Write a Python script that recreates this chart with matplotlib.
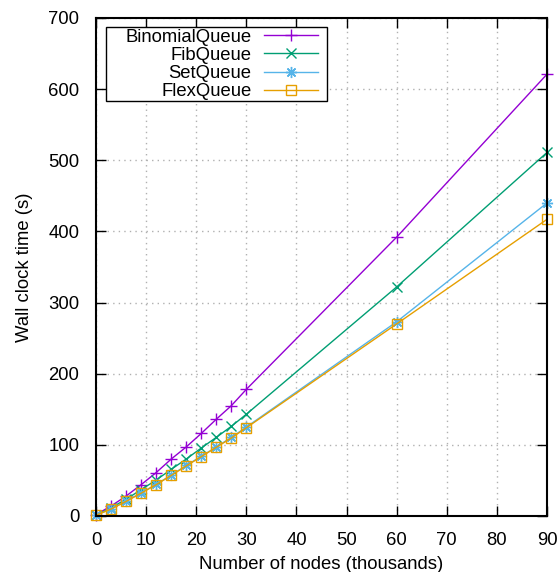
import matplotlib
matplotlib.use("Agg")
import matplotlib.pyplot as plt
from matplotlib.patches import Rectangle

nodes = [0, 3, 6, 9, 12, 15, 18, 21, 24, 27, 30, 60, 90]
binomial = [2, 14, 28, 44, 61, 80, 97, 116, 136, 155, 178, 392, 621]
fib = [1, 11.5, 23.5, 37, 50.5, 65.5, 80, 95.5, 110.5, 126, 143, 322, 511]
setq = [1, 10, 21, 32.5, 44.5, 57.5, 71, 84, 97, 110.5, 125, 273, 440]
flex = [1, 9.8, 20.5, 32, 44, 57, 70.3, 83.4, 96.5, 109.6, 124, 270, 417]

series_names = ["BinomialQueue", "FibQueue", "SetQueue", "FlexQueue"]
colors = ["#9400d3", "#009e73", "#56b4e9", "#e69f00"]
xticks = [0, 10, 20, 30, 40, 50, 60, 70, 80, 90]
yticks = [0, 100, 200, 300, 400, 500, 600, 700]

plt.rcParams['font.family'] = ['Liberation Sans', 'DejaVu Sans']
plt.rcParams['font.size'] = 13.3

W, H = 558, 572
L, R, T, B = 96, 547, 18, 516
fig = plt.figure(figsize=(W/100, H/100), dpi=100)
ax = fig.add_axes([L/W, 1-B/H, (R-L)/W, (B-T)/H])

def ax_x(px):
    return (px - L) / (R - L)

def ax_y(py):
    return (B - py) / (B - T)

styles = [dict(marker='+', markersize=9, mew=1.0, mfc='none'),
          dict(marker='x', markersize=7, mew=1.0, mfc='none'),
          dict(marker=(8, 2, 0), markersize=8, mew=1.0, mfc='none'),
          dict(marker='s', markersize=7, mew=1.0, mfc='none')]

for name, ys, c, st in zip(series_names, [binomial, fib, setq, flex], colors, styles):
    ax.plot(nodes, ys, color=c, lw=1.0, label=name, mec=c, clip_on=False, **st)

ax.set_xlim(0, 90)
ax.set_ylim(0, 700)
ax.set_xticks(xticks)
ax.set_yticks(yticks)
ax.tick_params(direction='in', length=7, width=1, top=True, right=True, colors='black')
ax.tick_params(axis='y', pad=12)
ax.tick_params(axis='x', pad=11.5)
ax.grid(True, linestyle=(0, (1, 3)), color='#b0b0b0', lw=1)
for s in ax.spines.values():
    s.set_linewidth(1.5)
ax.set_xlabel("Number of nodes (thousands)", labelpad=5)
ax.set_ylabel("Wall clock time (s)", labelpad=11)

# legend frame
ax.add_patch(Rectangle((ax_x(106), ax_y(101)), ax_x(327) - ax_x(106), ax_y(27) - ax_y(101),
                       transform=ax.transAxes, facecolor='white', edgecolor='black',
                       lw=1.0, zorder=4.9, clip_on=False))
leg = ax.legend(loc='upper right', bbox_to_anchor=(ax_x(318), ax_y(28.5)), markerfirst=False,
                frameon=False, handlelength=2.95, handletextpad=0.65, labelspacing=0.07,
                borderpad=0, borderaxespad=0)
leg.set_zorder(5)

fig.savefig("out.png", dpi=100)
